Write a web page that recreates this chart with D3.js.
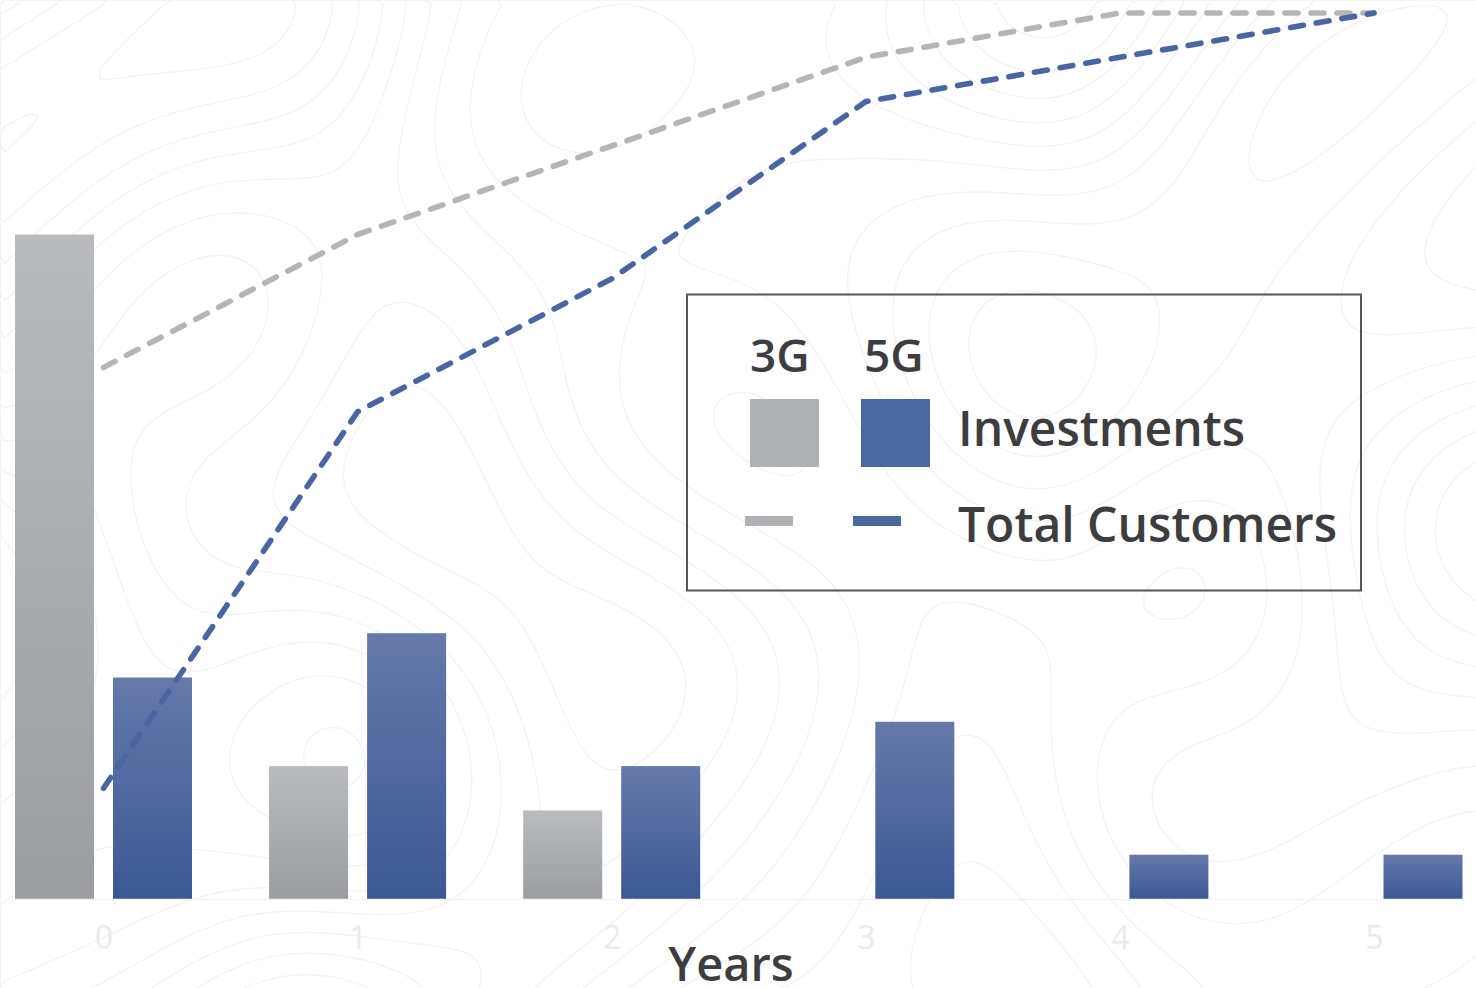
<!DOCTYPE html>
<html>
<head>
<meta charset="utf-8">
<script src="https://cdn.jsdelivr.net/npm/d3@7"></script>
<style>
  html, body { margin: 0; padding: 0; background: #ffffff; }
  svg { display: block; }
  text { font-family: "Open Sans", "Noto Sans", sans-serif; }
</style>
</head>
<body>
<svg id="chart" width="1476" height="988"></svg>
<script>
// ---- data ----
const years = [0, 1, 2, 3, 4, 5];
const seriesNames = ["3G", "5G"];
const invest3G = [15, 3, 2, 0, 0, 0];
const invest5G = [5, 6, 3, 4, 1, 1];
const customers3G = [12, 15, 17, 19, 20, 20];
const customers5G = [2.5, 11, 14, 18, 19, 20];
const xTickLabels = ["0", "1", "2", "3", "4", "5"];
const legendRows = ["Investments", "Total Customers"];
const xAxisTitle = "Years";

const W = 1476, H = 988;
const svg = d3.select("#chart");
const defs = svg.append("defs");

// ---- faint topographic background ----
(function () {
  const nx = 160, ny = 108, cell = W / (nx - 1);
  const vals = new Array(nx * ny);
  for (let j = 0; j < ny; j++) {
    for (let i = 0; i < nx; i++) {
      const x = i * cell, y = j * cell;
      vals[j * nx + i] =
        Math.sin(x * 0.005 + Math.sin(y * 0.006) * 1.6) +
        0.8 * Math.cos(y * 0.006 - x * 0.003 + Math.sin(x * 0.009) * 0.9) +
        0.35 * Math.sin((x + y) * 0.01);
    }
  }
  const thresholds = d3.range(-2.1, 2.2, 0.3);
  const contours = d3.contours().size([nx, ny]).thresholds(thresholds)(vals);
  const path = d3.geoPath(d3.geoTransform({
    point: function (px, py) { this.stream.point(px * cell, py * cell); }
  }));
  svg.append("g")
    .selectAll("path").data(contours).join("path")
    .attr("d", path)
    .attr("fill", "none")
    .attr("stroke", "#f3f3f4")
    .attr("stroke-width", 1.4);
})();

// ---- gradients ----
const gGray = defs.append("linearGradient").attr("id", "gradGray")
  .attr("x1", 0).attr("y1", 0).attr("x2", 0).attr("y2", 1);
gGray.append("stop").attr("offset", "0%").attr("stop-color", "#babbbf");
gGray.append("stop").attr("offset", "100%").attr("stop-color", "#9c9da1");
const gBlue = defs.append("linearGradient").attr("id", "gradBlue")
  .attr("x1", 0).attr("y1", 0).attr("x2", 0).attr("y2", 1);
gBlue.append("stop").attr("offset", "0%").attr("stop-color", "#6579aa");
gBlue.append("stop").attr("offset", "100%").attr("stop-color", "#3b5894");

// ---- scales ----
const x = d3.scaleLinear().domain([0, 5]).range([103.5, 1374]);
const y = d3.scaleLinear().domain([0, 20]).range([899, 13]);
const sub = d3.scaleBand().domain(seriesNames).range([-88.5, 88.5]).paddingInner(19 / 98);
const fills = { "3G": "url(#gradGray)", "5G": "url(#gradBlue)" };
const lineColors = { "3G": "#b4b5b8", "5G": "#4a66a2" };
const swatchColors = { "3G": "#b0b1b5", "5G": "#4a67a0" };

// ---- bars ----
const barData = [];
years.forEach((yr, i) => {
  barData.push({ year: yr, s: "3G", v: invest3G[i] });
  barData.push({ year: yr, s: "5G", v: invest5G[i] });
});
svg.append("g").selectAll("rect").data(barData.filter(d => d.v > 0)).join("rect")
  .attr("x", d => x(d.year) + sub(d.s))
  .attr("y", d => y(d.v))
  .attr("width", sub.bandwidth())
  .attr("height", d => y(0) - y(d.v))
  .attr("fill", d => fills[d.s]);

// ---- x axis ----
const axis = svg.append("g").attr("transform", `translate(0,${y(0)})`)
  .call(d3.axisBottom(x).tickValues(years).tickFormat((d, i) => xTickLabels[i]).tickSize(0).tickPadding(27));
axis.select(".domain").attr("stroke", "#f3f3f5").attr("stroke-width", 1.5)
  .attr("d", `M15,0.5H1463`);
axis.selectAll("text")
  .attr("font-size", 32)
  .attr("font-family", "Open Sans")
  .attr("fill", "#ebebeb")
  .attr("dy", "0.71em");

svg.append("text")
  .attr("x", 731).attr("y", 981)
  .attr("text-anchor", "middle")
  .attr("font-size", 47)
  .attr("font-weight", 600)
  .attr("fill", "#3d3d3f")
  .text(xAxisTitle);

// ---- lines ----
const line = d3.line().x((d, i) => x(years[i])).y(d => y(d));
[["3G", customers3G], ["5G", customers5G]].forEach(([s, vals]) => {
  svg.append("path")
    .datum(vals)
    .attr("d", line)
    .attr("fill", "none")
    .attr("stroke", lineColors[s])
    .attr("stroke-width", 5.6)
    .attr("stroke-linecap", "round")
    .attr("stroke-linejoin", "round")
    .attr("stroke-dasharray", "13 13");
});

// ---- legend ----
const lg = svg.append("g");
lg.append("rect")
  .attr("x", 687).attr("y", 294.5).attr("width", 674).attr("height", 296)
  .attr("fill", "none").attr("stroke", "#555558").attr("stroke-width", 2);

const legendCols = { "3G": 750, "5G": 861 };
seriesNames.forEach(s => {
  lg.append("text")
    .attr("x", legendCols[s] + (s === "5G" ? 3 : 0)).attr("y", 372)
    .attr("font-size", 46).attr("font-weight", 600).attr("fill", "#3d3d3f")
    .text(s);
  lg.append("rect")
    .attr("x", legendCols[s]).attr("y", 399).attr("width", 69).attr("height", 68)
    .attr("fill", swatchColors[s]);
  lg.append("rect")
    .attr("x", legendCols[s] - (s === "3G" ? 5 : 8)).attr("y", 516).attr("width", 48).attr("height", 10)
    .attr("fill", swatchColors[s]);
});
lg.append("text").attr("x", 958).attr("y", 446)
  .attr("font-size", 48).attr("font-weight", 600).attr("fill", "#3d3d3f").text(legendRows[0]);
lg.append("text").attr("x", 958).attr("y", 542)
  .attr("font-size", 48).attr("font-weight", 600).attr("fill", "#3d3d3f").text(legendRows[1]);
</script>
</body>
</html>
